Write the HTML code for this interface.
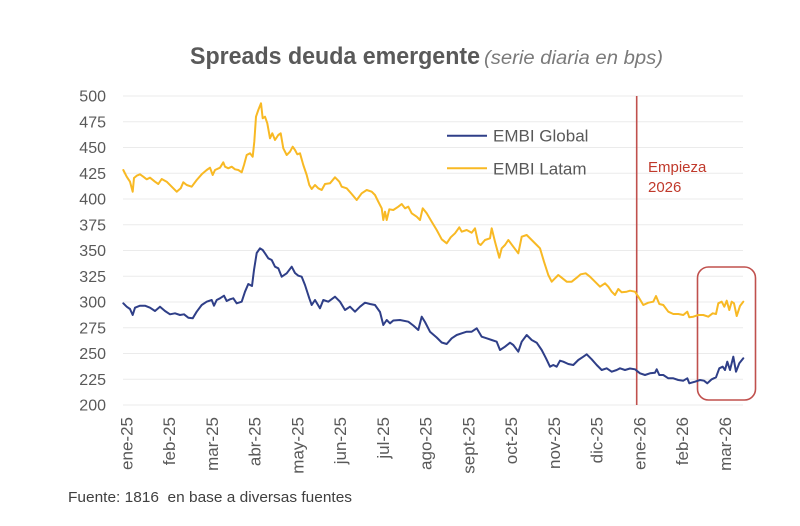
<!DOCTYPE html>
<html>
<head>
<meta charset="utf-8">
<style>
  html,body{margin:0;padding:0;background:#fff;}
  svg{display:block;font-family:"Liberation Sans",Arial,sans-serif;}
</style>
</head>
<body>
<svg width="800" height="526" viewBox="0 0 800 526" xmlns="http://www.w3.org/2000/svg">
  <rect width="800" height="526" fill="#fff"/>

  <!-- Title -->
  <text x="190" y="64" font-size="24" font-weight="bold" fill="#595959" textLength="290" lengthAdjust="spacingAndGlyphs">Spreads deuda emergente</text>
  <text x="484" y="64" font-size="19" font-style="italic" fill="#7a7a7a" textLength="179" lengthAdjust="spacingAndGlyphs">(serie diaria en bps)</text>

  <!-- Gridlines -->
  <g stroke="#ebebeb" stroke-width="1">
    <line x1="123" x2="743" y1="96" y2="96"/>
    <line x1="123" x2="743" y1="121.75" y2="121.75"/>
    <line x1="123" x2="743" y1="147.5" y2="147.5"/>
    <line x1="123" x2="743" y1="173.25" y2="173.25"/>
    <line x1="123" x2="743" y1="199" y2="199"/>
    <line x1="123" x2="743" y1="224.75" y2="224.75"/>
    <line x1="123" x2="743" y1="250.5" y2="250.5"/>
    <line x1="123" x2="743" y1="276.25" y2="276.25"/>
    <line x1="123" x2="743" y1="302" y2="302"/>
    <line x1="123" x2="743" y1="327.75" y2="327.75"/>
    <line x1="123" x2="743" y1="353.5" y2="353.5"/>
    <line x1="123" x2="743" y1="379.25" y2="379.25"/>
    <line x1="123" x2="743" y1="405" y2="405"/>
  </g>

  <!-- Y labels -->
  <g font-size="16" fill="#595959" text-anchor="end">
    <text x="106" y="101.7">500</text>
    <text x="106" y="127.5">475</text>
    <text x="106" y="153.2">450</text>
    <text x="106" y="179">425</text>
    <text x="106" y="204.7">400</text>
    <text x="106" y="230.5">375</text>
    <text x="106" y="256.2">350</text>
    <text x="106" y="282">325</text>
    <text x="106" y="307.7">300</text>
    <text x="106" y="333.5">275</text>
    <text x="106" y="359.2">250</text>
    <text x="106" y="385">225</text>
    <text x="106" y="410.7">200</text>
  </g>

  <!-- X labels (rotated) -->
  <g font-size="17" fill="#595959" text-anchor="end">
    <text transform="translate(132.5,417) rotate(-90)">ene-25</text>
    <text transform="translate(175.2,417) rotate(-90)">feb-25</text>
    <text transform="translate(218,417) rotate(-90)">mar-25</text>
    <text transform="translate(260.7,417) rotate(-90)">abr-25</text>
    <text transform="translate(303.5,417) rotate(-90)">may-25</text>
    <text transform="translate(346.2,417) rotate(-90)">jun-25</text>
    <text transform="translate(388.9,417) rotate(-90)">jul-25</text>
    <text transform="translate(431.7,417) rotate(-90)">ago-25</text>
    <text transform="translate(474.4,417) rotate(-90)">sept-25</text>
    <text transform="translate(517.2,417) rotate(-90)">oct-25</text>
    <text transform="translate(559.9,417) rotate(-90)">nov-25</text>
    <text transform="translate(602.6,417) rotate(-90)">dic-25</text>
    <text transform="translate(645.4,417) rotate(-90)">ene-26</text>
    <text transform="translate(688.1,417) rotate(-90)">feb-26</text>
    <text transform="translate(730.9,417) rotate(-90)">mar-26</text>
  </g>

  <!-- Red vertical line -->
  <line x1="636.7" x2="636.7" y1="96" y2="405" stroke="#c0504d" stroke-width="1.6"/>

  <!-- Rounded highlight rect -->
  <rect x="697.5" y="267" width="58" height="133" rx="11" ry="11" fill="none" stroke="#c0504d" stroke-width="1.6"/>

  <!-- EMBI Latam -->
  <polyline fill="none" stroke="#f8b924" stroke-width="2" stroke-linejoin="round" stroke-linecap="round" points="123.3,170 126.7,176.7 130,181.7 132.7,191.7 134,178 136.7,175.7 140,174.3 143.3,176.7 146.7,179.3 150,177.7 155,181.7 158.3,184 161.7,179 166.7,181.7 171.7,186.7 176.7,191.7 180.7,188.3 183.3,182.3 186.7,185 191.7,186.7 196.7,180 201.7,174.3 206.7,170 210,167.7 212.7,175 215,170 220,167.7 223.3,162.3 225,166.7 228.3,168.3 231.7,166.7 235,169.3 238.3,170 241.7,172.3 244,165 246.7,155 250,153.3 252.7,156.7 254.3,141.7 256,116.7 258.3,110 261,103.3 262.7,118.3 265,116.7 267.3,123.3 270,138.3 272.3,133.3 275,140 278.3,135 280.7,133.3 283.3,148.3 286.7,155 290,151.7 292.7,146.7 295,150 297.3,154.3 300,153.3 303.3,165 306.7,175 309.3,185 311.7,189 315,185 318.3,188.3 321.7,190 325,184 330,183.3 335,177.3 339.3,181.7 341.7,186.7 346.7,188.3 351.7,194 356.7,200 361.7,193.3 366.7,190 371.7,191.7 375,195 378.3,201.7 381.7,208.3 383.3,220 385,211.7 386.7,220 389.3,209.3 393.3,210 398.3,206.7 401.7,204 405,208.3 408.3,206.7 411.7,213.3 416.7,216.7 420,220 422.7,208.3 426.7,213.3 431.7,221.7 436.7,230 441.7,239.3 446.7,243.3 450.7,237.3 455,233.3 459.3,227.3 461.7,231.7 466.7,230 471.7,232.7 475,228.3 478.3,243.3 480.7,245 485,240 490,238.3 491.7,228.3 495,241.7 499.3,257.7 501.7,248.3 505,245 508.3,240 513.3,246.7 518.3,253.3 521.7,236.7 526.7,235 531.7,240 536.7,245 540,248.3 544,261.7 548.3,275 551.7,281.7 555,278.3 558.3,275 561.7,277.7 566.7,281.7 571.7,281.7 576.7,277.7 580.7,274.3 585.7,273.3 590,276.7 595,281.7 600,286.7 605,283.3 608.3,286.7 611.7,291.7 615,295 618.3,289 621.7,292.3 626.7,291.7 630,290.7 635,291.7 638.3,296.7 643.3,305 648.3,302.7 653.3,301.7 656,296 659.3,304 663.3,305 668.3,311.7 673.3,314 678.3,314 683.3,315 687.3,311.7 689.3,317.3 693.3,316.7 698.3,315 703.3,315 708.3,316.7 712.7,313.3 716,314 718.3,303.3 721.7,301.7 724.3,306.7 726.7,300.7 729.3,310 731.7,301.7 734,303.3 736.7,316 740,306 743.3,301.7"/>

  <!-- EMBI Global -->
  <polyline fill="none" stroke="#2f3f88" stroke-width="2" stroke-linejoin="round" stroke-linecap="round" points="123.3,303.3 126.7,306.7 130,309 132.7,315 135,307.7 140,305.7 145,305.7 150,307.7 155,311 160,306.7 165,311 170,314.3 175,313.3 180,315 184,314.3 188.3,317.7 192.7,318.3 196.7,311.7 201.7,305 206.7,301.7 211.7,300 214,305.7 216.7,300 220,298.3 224,295.7 226.7,301 230,299.3 233.3,298.3 236.7,303.3 241.7,301.7 245,291.7 248.3,284 252,286 254,270 256.7,253 260,248.3 262.7,250 265,253.3 268.3,258.3 271.7,260 275,266.7 278.3,268.3 281.7,276.7 286.7,273.3 291.7,266.7 295,273 298.3,275.7 301.7,276.7 305,285 309.3,298.3 311.7,305 315,300 320,308.3 323.3,300 328.3,301.7 335,296.7 340,301.7 345,310 350,306.7 355,311.7 360,306.7 365,302.7 370,304 375,305 380,312 383.3,325 386.7,320 390,323.3 393.3,320.5 400,320 408.3,321.7 413.3,325.5 418.3,330 421.7,316.7 425,322 430,331.7 436.7,337.5 441.7,342.5 446.7,344 451.7,338.3 456.7,335 461.7,333.3 466.7,331.7 471.7,331.7 476.7,328.3 481.7,336.7 486.7,338.3 491.7,340 496.7,341.7 500,350 505,346.7 510,342.7 513.3,345 518.3,351.7 521.7,341.7 526.7,335 531.7,340 536.7,342.7 541.7,350 546,358.3 550,366.7 553.3,365 556.7,366.7 560,360.7 563.3,361.7 568.3,364 573.3,365 578.3,360 583.3,356.7 586.7,354.3 591.7,359.3 596.7,365 601.7,370 606.7,368.3 611.7,371.7 616.7,370 620,368.3 625,370 630,368.5 635,369.3 640,373.3 645,375 650,373.3 655,372.7 656.7,369.3 659.3,375 663.3,375 668.3,378.3 673.3,378.3 678.3,380 683.3,380.7 687.3,378.3 689.3,383.3 695,381.7 700,380 704,380.7 707.3,383.3 711.7,379.3 716,377.3 719.3,368.3 722.7,366.7 725,370 727.3,361.7 730,370 733.3,356.7 736,371.7 739.3,363.3 743.3,358.3"/>

  <!-- Legend -->
  <line x1="447" x2="487" y1="135.7" y2="135.7" stroke="#2f3f88" stroke-width="2"/>
  <text x="493" y="141.7" font-size="17" fill="#595959">EMBI Global</text>
  <line x1="447" x2="487" y1="168.3" y2="168.3" stroke="#f8b924" stroke-width="2"/>
  <text x="493" y="174.3" font-size="17" fill="#595959">EMBI Latam</text>

  <!-- Annotation -->
  <text x="648" y="172" font-size="15" fill="#c0392b">Empieza</text>
  <text x="648" y="192" font-size="15" fill="#c0392b">2026</text>

  <!-- Footer -->
  <text x="68" y="502" font-size="15" fill="#404040" textLength="284" lengthAdjust="spacingAndGlyphs" xml:space="preserve">Fuente: 1816  en base a diversas fuentes</text>
</svg>
</body>
</html>
